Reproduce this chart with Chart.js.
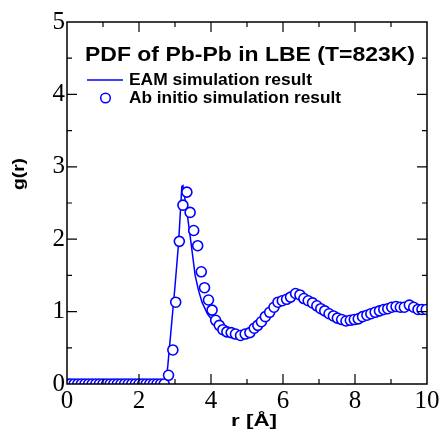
<!DOCTYPE html>
<html>
<head>
<meta charset="utf-8">
<script src="https://cdn.jsdelivr.net/npm/chart.js@4/dist/chart.umd.min.js"></script>
<style>
html,body{margin:0;padding:0;background:#fff;}
canvas{display:block;}
</style>
</head>
<body>
<canvas id="c" width="445" height="431"></canvas>
<script>
// ---- data ----
const chartTitle = "PDF of Pb-Pb in LBE (T=823K)";
const xTitle = "r [Å]";
const yTitle = "g(r)";
const seriesNames = ["EAM simulation result", "Ab initio simulation result"];
const xTicks = [0, 2, 4, 6, 8, 10];
const yTicks = [0, 1, 2, 3, 4, 5];

const eamR = [0, 2.74, 2.8, 2.9, 3.0, 3.1, 3.19, 3.22, 3.33, 3.44, 3.56, 3.65, 3.75, 3.9, 4.07, 4.2, 4.35, 4.5, 4.7, 4.85, 5.0, 5.2, 5.4, 5.6, 5.8, 6.0, 6.2, 6.35, 6.5, 6.7, 6.9, 7.1, 7.3, 7.5, 7.7, 7.9, 8.1, 8.3, 8.5, 8.7, 8.9, 9.1, 9.3, 9.5, 9.7, 9.9, 10];
const eamG = [0, 0, 0.25, 0.8, 1.35, 1.95, 2.73, 2.74, 2.38, 1.97, 1.5, 1.3, 1.13, 0.97, 0.86, 0.79, 0.74, 0.71, 0.69, 0.67, 0.69, 0.75, 0.87, 0.98, 1.09, 1.15, 1.19, 1.24, 1.22, 1.15, 1.09, 1.03, 0.97, 0.92, 0.88, 0.88, 0.9, 0.94, 0.98, 1.01, 1.04, 1.06, 1.06, 1.08, 1.05, 1.03, 1.03];

const abR = [0, 0.1, 0.2, 0.3, 0.4, 0.5, 0.6, 0.7, 0.8, 0.9, 1.0, 1.1, 1.2, 1.3, 1.4, 1.5, 1.6, 1.7, 1.8, 1.9, 2.0, 2.1, 2.2, 2.3, 2.4, 2.5, 2.6, 2.7,
  2.82, 2.94, 3.02, 3.12, 3.22, 3.33, 3.42, 3.52, 3.63, 3.73, 3.82, 3.93, 4.03, 4.13, 4.23, 4.33, 4.44, 4.56, 4.68, 4.82, 4.95,
  5.08, 5.2, 5.3, 5.4, 5.51, 5.63, 5.75, 5.86, 5.98, 6.1, 6.21, 6.35, 6.47, 6.58, 6.7, 6.82, 6.94, 7.05, 7.16, 7.28, 7.4, 7.51, 7.63, 7.75, 7.87, 7.98,
  8.09, 8.21, 8.33, 8.44, 8.56, 8.68, 8.8, 8.91, 9.02, 9.14, 9.26, 9.37, 9.51, 9.63, 9.75, 9.86, 9.98];
const abG = [0, 0, 0, 0, 0, 0, 0, 0, 0, 0, 0, 0, 0, 0, 0, 0, 0, 0, 0, 0, 0, 0, 0, 0, 0, 0, 0, 0,
  0.12, 0.47, 1.13, 1.97, 2.47, 2.65, 2.37, 2.12, 1.91, 1.55, 1.33, 1.16, 1.02, 0.88, 0.81, 0.75, 0.72, 0.71, 0.69, 0.67, 0.69,
  0.71, 0.77, 0.81, 0.86, 0.93, 0.99, 1.06, 1.13, 1.15, 1.17, 1.2, 1.25, 1.23, 1.18, 1.15, 1.12, 1.08, 1.04, 1.01, 0.97, 0.94, 0.91, 0.89, 0.87, 0.88, 0.89,
  0.9, 0.93, 0.95, 0.97, 0.99, 1.01, 1.03, 1.04, 1.06, 1.07, 1.06, 1.06, 1.09, 1.06, 1.03, 1.03, 1.03];

// ---- styling ----
const BLUE = '#0000ff';
const SERIF = '"Liberation Serif", "DejaVu Serif", serif';
const SANS = '"Liberation Sans", Arial, sans-serif';

// draw text stretched horizontally to a given width (left-aligned at x)
function wideText(ctx, text, x, y, width) {
  const w = ctx.measureText(text).width;
  ctx.save();
  ctx.translate(x, y);
  ctx.scale(width / w, 1);
  ctx.textAlign = 'left';
  ctx.fillText(text, 0, 0);
  ctx.restore();
}

const frame = {
  id: 'frame',
  afterDatasetsDraw(chart) {
    const ctx = chart.ctx;
    const a = chart.chartArea;
    const xs = chart.scales.x, ys = chart.scales.y;
    ctx.save();
    ctx.strokeStyle = '#000';
    ctx.lineWidth = 1.5;
    ctx.strokeRect(a.left, a.top, a.right - a.left, a.bottom - a.top);
    ctx.lineWidth = 1.2;
    ctx.beginPath();
    for (let v = 1; v < 10; v += 1) {
      const px = xs.getPixelForValue(v);
      const len = (v % 2 === 0) ? 10 : 5;
      ctx.moveTo(px, a.bottom); ctx.lineTo(px, a.bottom - len);
      ctx.moveTo(px, a.top); ctx.lineTo(px, a.top + len);
    }
    for (let i = 1; i < 10; i++) {
      const v = i * 0.5;
      const py = ys.getPixelForValue(v);
      const len = (i % 2 === 0) ? 10 : 5;
      ctx.moveTo(a.left, py); ctx.lineTo(a.left + len, py);
      ctx.moveTo(a.right, py); ctx.lineTo(a.right - len, py);
    }
    ctx.stroke();

    // title
    ctx.fillStyle = '#000';
    ctx.textBaseline = 'middle';
    ctx.font = 'bold 20px ' + SANS;
    wideText(ctx, chartTitle, 85, 55, 330);

    // legend
    ctx.font = 'bold 16px ' + SANS;
    ctx.strokeStyle = BLUE;
    ctx.lineWidth = 1.5;
    ctx.beginPath();
    ctx.moveTo(87, 80); ctx.lineTo(123, 80);
    ctx.stroke();
    wideText(ctx, seriesNames[0], 129, 81, 183);
    ctx.beginPath();
    ctx.arc(105.5, 98, 4.8, 0, Math.PI * 2);
    ctx.fillStyle = '#fff';
    ctx.fill();
    ctx.stroke();
    ctx.fillStyle = '#000';
    wideText(ctx, seriesNames[1], 129, 98.5, 212);

    // axis titles
    ctx.font = 'bold 16px ' + SANS;
    wideText(ctx, xTitle, 231, 422, 46);
    ctx.save();
    ctx.translate(20, 174);
    ctx.rotate(-Math.PI / 2);
    ctx.font = 'bold 16px ' + SANS;
    wideText(ctx, yTitle, -16, 0, 32);
    ctx.restore();
    ctx.restore();
  }
};

new Chart(document.getElementById('c'), {
  type: 'scatter',
  data: {
    datasets: [
      {
        label: seriesNames[1],
        data: abR.map((r, i) => ({ x: r, y: abG[i] })),
        showLine: false,
        pointStyle: 'circle',
        pointRadius: 5,
        pointBorderWidth: 1.6,
        pointBorderColor: BLUE,
        pointBackgroundColor: '#fff',
        order: 0
      },
      {
        label: seriesNames[0],
        data: eamR.map((r, i) => ({ x: r, y: eamG[i] })),
        showLine: true,
        borderColor: BLUE,
        borderWidth: 1.5,
        pointRadius: 0,
        tension: 0,
        order: 1
      }
    ]
  },
  options: {
    responsive: false,
    animation: false,
    devicePixelRatio: 1,
    layout: { padding: { top: 22, right: 18, left: 0, bottom: 0 } },
    plugins: { legend: { display: false }, tooltip: { enabled: false }, title: { display: false } },
    scales: {
      x: {
        type: 'linear', min: 0, max: 10,
        afterFit: s => { s.height = 47; },
        afterBuildTicks: s => { s.ticks = xTicks.map(v => ({ value: v })); },
        grid: { display: false, drawTicks: false },
        border: { display: false },
        ticks: { color: '#000', font: { family: SERIF, size: 25 }, padding: 2, maxRotation: 0, autoSkip: false }
      },
      y: {
        type: 'linear', min: 0, max: 5,
        afterFit: s => { s.width = 67; },
        afterBuildTicks: s => { s.ticks = yTicks.map(v => ({ value: v })); },
        grid: { display: false, drawTicks: false },
        border: { display: false },
        ticks: { color: '#000', font: { family: SERIF, size: 25 }, padding: 2, autoSkip: false }
      }
    }
  },
  plugins: [frame]
});
</script>
</body>
</html>
